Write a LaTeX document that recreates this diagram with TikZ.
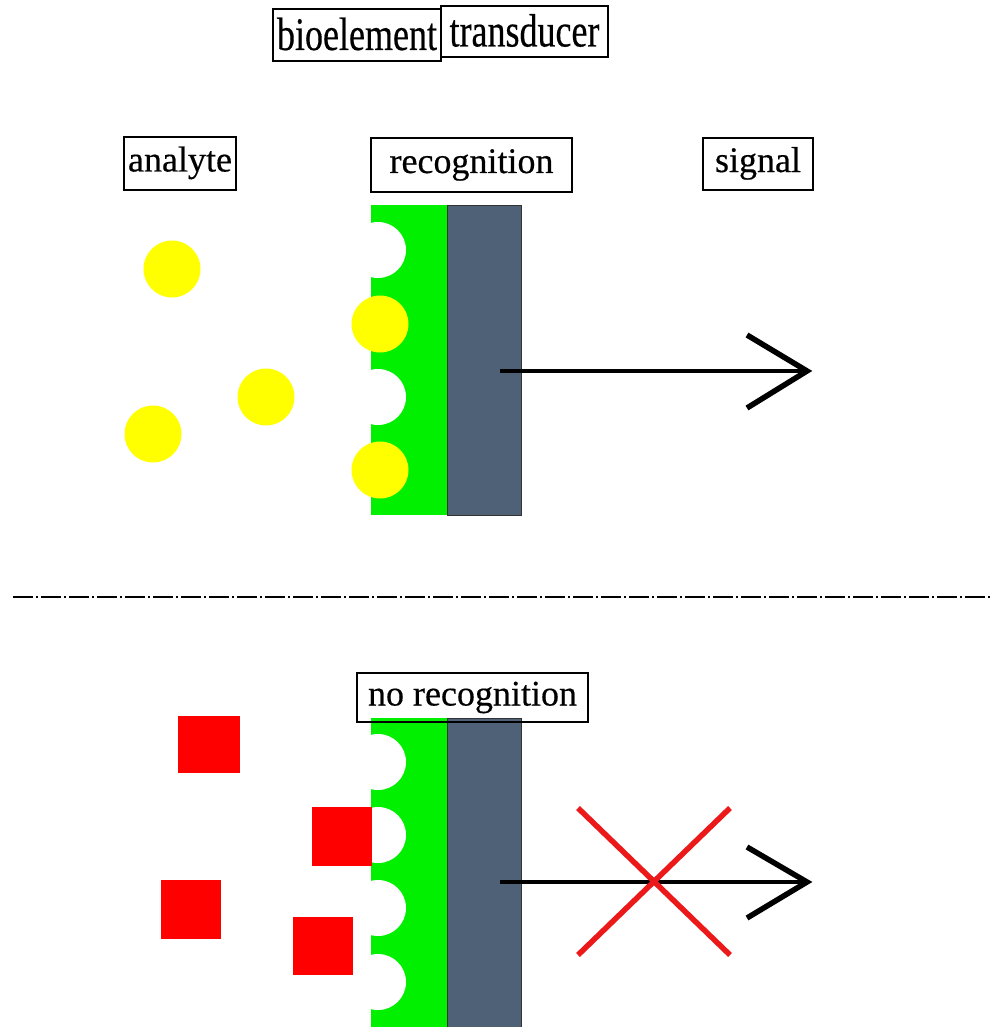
\documentclass[tikz,border=0pt]{standalone}
\usepackage{fontspec}
\setmainfont{Liberation Serif}[FakeBold=0.4]
\usepackage{graphicx}
\definecolor{leaf}{RGB}{0,240,0}
\definecolor{slate}{RGB}{79,97,118}
\definecolor{sun}{RGB}{255,255,0}
\definecolor{brick}{RGB}{255,0,0}
\definecolor{crossred}{RGB}{235,25,25}
\begin{document}
\begin{tikzpicture}[x=1pt,y=-1pt,
  lbl/.style={draw=black,line width=1.3pt,inner sep=0pt,font=\fontsize{36}{40}\selectfont,text height=25pt,text depth=9pt},
  toplbl/.style={lbl,text height=34pt,text depth=4pt},
  bio/.style={fill=leaf,draw=none},
  trans/.style={fill=slate,draw=black!80,line width=1pt},
  notch/.style={circle,fill=white,draw=none,minimum size=56pt,inner sep=0pt},
  ana/.style={circle,fill=sun,draw=none,minimum size=57pt,inner sep=0pt},
  other/.style={fill=brick,draw=none,inner sep=0pt,minimum width=60pt,minimum height=59pt},
  shaft/.style={line width=4pt},
  head/.style={line width=5.5pt,line join=miter},
  xmark/.style={draw=crossred,line width=5.5pt},
  sep/.style={line width=2pt,dash pattern=on 20pt off 3pt on 2pt off 3pt}]
\useasboundingbox (0,0) rectangle (991,1027);

% ---------- top labels ----------
\node[toplbl,minimum width=168pt,minimum height=52pt] (bioel) at (357,35) {\scalebox{1}[1.3]{bioelement}};
\node[toplbl,minimum width=167pt,minimum height=51pt] (transd) at (524.5,31.5) {\scalebox{1}[1.3]{transducer}};

\node[lbl,minimum width=112pt,minimum height=53pt] (analyte) at (180,163.5) {analyte};
\node[lbl,minimum width=201pt,minimum height=54pt] (recog) at (471.5,165) {recognition};
\node[lbl,minimum width=110pt,minimum height=52pt] (signal) at (758,164) {signal};

% ---------- top sensor ----------
\fill[bio] (371,205) rectangle (447,515);
\filldraw[trans] (447,205) rectangle (521,515);
\node[notch] (n1) at (378,250) {};
\node[notch] (n2) at (378,397) {};
\node[ana] (b1) at (380,324) {};
\node[ana] (b2) at (380,470) {};

% free analytes
\node[ana] (a1) at (172,269) {};
\node[ana] (a2) at (266,397) {};
\node[ana] (a3) at (153,434) {};

% signal arrow
\coordinate (s1) at (500,371);
\coordinate (t1) at (807,371);
\draw[shaft] (s1) -- (t1);
\draw[head] (747,335) -- (t1) -- (747,408);

% ---------- separator ----------
\coordinate (sepL) at (13,597);
\coordinate (sepR) at (990,597);
\draw[sep] (sepL) -- (sepR);

% ---------- bottom sensor ----------
\fill[bio] (371,718) rectangle (447,1030);
\filldraw[trans] (447,718) rectangle (521,1030);
\node[notch] (m1) at (378,762) {};
\node[notch] (m2) at (378,835) {};
\node[notch] (m3) at (378,908) {};
\node[notch] (m4) at (378,982) {};

\node[lbl,minimum width=231pt,minimum height=49pt] (norecog) at (472.5,697.5) {no recognition};

% non-matching molecules
\node[other,minimum width=62pt,minimum height=57pt] (r1) at (209,744.5) {};
\node[other] (r2) at (342,836) {};
\node[other] (r3) at (191,909) {};
\node[other,minimum height=58pt] (r4) at (323,946) {};

% blocked arrow
\coordinate (s2) at (500,882);
\coordinate (t2) at (807,882);
\draw[shaft] (s2) -- (t2);
\draw[head] (747,847) -- (t2) -- (747,918);

\coordinate (x1) at (578,808);
\coordinate (x2) at (730,955);
\coordinate (x3) at (730,808);
\coordinate (x4) at (578,955);
\draw[xmark] (x1) -- (x2);
\draw[xmark] (x3) -- (x4);
\end{tikzpicture}
\end{document}
